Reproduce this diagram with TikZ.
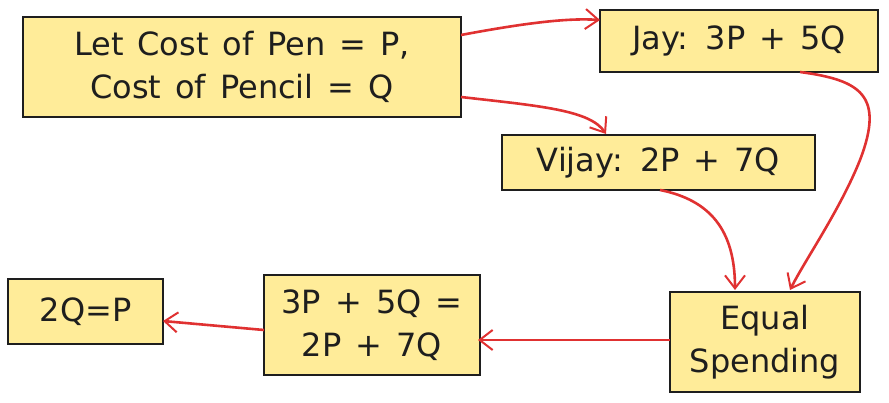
\documentclass[tikz,border=0pt]{standalone}
\usepackage{fontspec}
\setmainfont{DejaVu Sans}
\usetikzlibrary{arrows.meta}
\definecolor{boxfill}{HTML}{FFEC99}
\definecolor{boxline}{HTML}{1E1E1E}
\definecolor{arr}{HTML}{E03131}
\newcommand{\cardfont}{\fontsize{32}{43}\selectfont\spaceskip=14pt\relax}
\begin{document}
\begin{tikzpicture}[x=1pt,y=-1pt,
  card/.style={draw=boxline,fill=boxfill,line width=2.2pt,inner sep=0pt,align=center,font=\cardfont,text=boxline},
  link/.style={draw=arr,line width=2.6pt,-{Straight Barb[length=13pt,width=20pt,line width=2pt]}}]
\useasboundingbox (0,0) rectangle (889,402);
\node[card,minimum width=438pt,minimum height=100pt] (a) at (242,67) {Let Cost of Pen = P,\\Cost of Pencil = Q};
\node[card,minimum width=278pt,minimum height=62pt] (b) at (739,41) {Jay: 3P + 5Q};
\node[card,minimum width=313pt,minimum height=55pt] (c) at (658.5,162.5) {Vijay: 2P + 7Q};
\node[card,minimum width=190pt,minimum height=100pt] (d) at (765,342) {Equal\\Spending};
\node[card,minimum width=216pt,minimum height=100pt] (e) at (372,325) {3P + 5Q =\\2P + 7Q};
\node[card,minimum width=155pt,minimum height=65pt] (f) at (85.5,311.5) {2Q=P};
\coordinate (a1) at (461,35);
\coordinate (a2) at (461,97);
\coordinate (b1) at (800,72);
\coordinate (c1) at (660,190);
\coordinate (d1) at (735,290);
\coordinate (d2) at (790,290);
\coordinate (d3) at (670,340);
\coordinate (e1) at (478,340);
\coordinate (e2) at (264,330);
\coordinate (f1) at (163,321);
\coordinate (b0) at (600,20);
\coordinate (c0) at (606,134);
\draw[link] (a1) .. controls (530,22) and (570,18) .. (b0);
\draw[link] (a2) .. controls (540,106) and (590,110) .. (c0);
\draw[link] (b1) .. controls (860,80) and (885,95) .. (860,160) .. controls (840,210) and (805,260) .. (d2);
\draw[link] (c1) .. controls (710,200) and (735,230) .. (d1);
\draw[link] (d3) -- (e1);
\draw[link] (e2) -- (f1);
\end{tikzpicture}
\end{document}
